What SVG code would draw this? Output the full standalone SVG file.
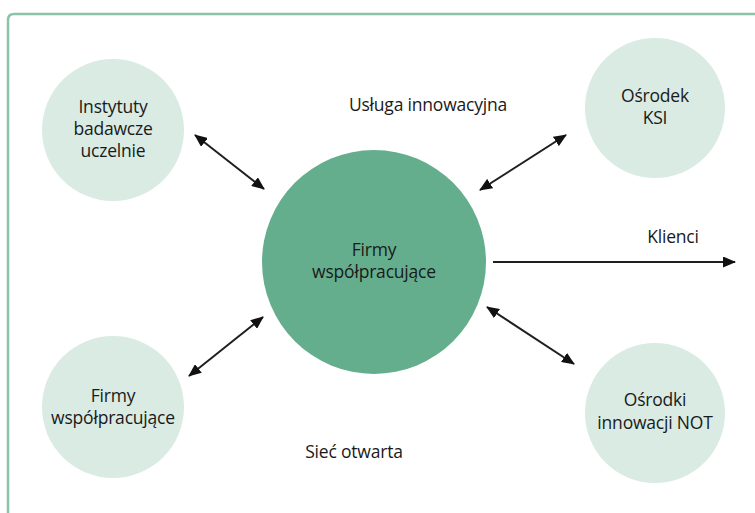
<svg xmlns="http://www.w3.org/2000/svg" width="755" height="513" viewBox="0 0 755 513">
  <defs>
    <style>
      .frame { fill: none; stroke: #8cc4a8; stroke-width: 2.5; }
      .sat { fill: #d9ebe3; }
      .hub { fill: #64ae8e; }
      .lbl { font-family: "Open Sans", "Liberation Sans", sans-serif; font-size: 17.5px; fill: #1a1a1a; text-anchor: middle; letter-spacing: -0.2px; }
      .link { stroke: #1f1f1f; stroke-width: 2; fill: none; }
    </style>
    <marker id="head" viewBox="0 0 13 11" refX="12" refY="5.5" markerWidth="13" markerHeight="11" markerUnits="userSpaceOnUse" orient="auto-start-reverse">
      <path d="M0,0 L13,5.5 L0,11 z" fill="#111"/>
    </marker>
  </defs>

  <rect width="755" height="513" fill="#ffffff"/>
  <!-- outer frame (runs off the right and bottom edges) -->
  <path class="frame" d="M8,530 L8,20 Q8,14 14,14 L770,14"/>

  <g id="connectors">
    <line class="link" x1="195" y1="135" x2="264" y2="189" marker-start="url(#head)" marker-end="url(#head)"/>
    <line class="link" x1="566" y1="135" x2="480" y2="190" marker-start="url(#head)" marker-end="url(#head)"/>
    <line class="link" x1="263" y1="317" x2="189" y2="376" marker-start="url(#head)" marker-end="url(#head)"/>
    <line class="link" x1="487" y1="307" x2="574" y2="364" marker-start="url(#head)" marker-end="url(#head)"/>
    <line class="link" x1="493" y1="262" x2="735" y2="262" marker-end="url(#head)"/>
  </g>

  <g id="hub">
    <circle class="hub" cx="374" cy="262" r="112"/>
    <text class="lbl" x="374" y="256">Firmy</text>
    <text class="lbl" x="374" y="278">współpracujące</text>
  </g>

  <g id="instituty">
    <circle class="sat" cx="113" cy="130" r="71"/>
    <text class="lbl" x="113" y="113">Instytuty</text>
    <text class="lbl" x="113" y="135">badawcze</text>
    <text class="lbl" x="113" y="157">uczelnie</text>
  </g>

  <g id="osrodek-ksi">
    <circle class="sat" cx="655" cy="108" r="70"/>
    <text class="lbl" x="655" y="102">Ośrodek</text>
    <text class="lbl" x="655" y="124">KSI</text>
  </g>

  <g id="firmy">
    <circle class="sat" cx="113" cy="407" r="71"/>
    <text class="lbl" x="113" y="402">Firmy</text>
    <text class="lbl" x="113" y="424">współpracujące</text>
  </g>

  <g id="osrodki-not">
    <circle class="sat" cx="655" cy="413" r="70"/>
    <text class="lbl" x="655" y="406">Ośrodki</text>
    <text class="lbl" x="655" y="429">innowacji NOT</text>
  </g>

  <g id="captions">
    <text class="lbl" x="428" y="111">Usługa innowacyjna</text>
    <text class="lbl" x="673" y="243">Klienci</text>
    <text class="lbl" x="354" y="458">Sieć otwarta</text>
  </g>
</svg>
